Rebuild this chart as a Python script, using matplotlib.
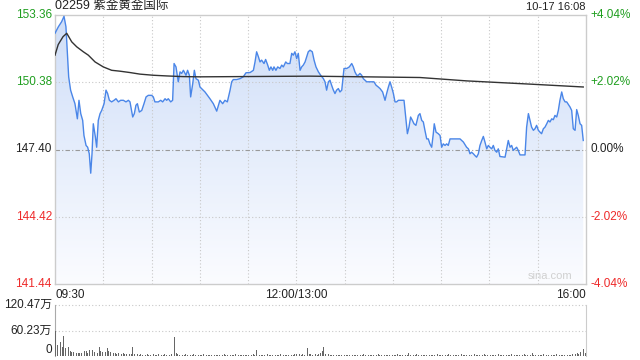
import numpy as np
import matplotlib
matplotlib.use("Agg")
import matplotlib.pyplot as plt

plt.rcParams["font.family"] = ["Liberation Sans", "Noto Sans CJK SC", "DejaVu Sans"]

# minutes since 09:30 (lunch break removed), price
price_min = [0, 2.1, 4.1, 5.6, 6.8, 7.7, 8.5, 9.7, 11.0, 12.4, 13.9, 14.9, 16.0, 17.2, 18.0, 19.3,
             20.3, 21.3, 22.2, 23.0, 23.8, 25.1, 25.9, 26.9, 28.0, 29.0, 30.5, 31.7, 32.7, 33.8,
             35.2, 36.7, 37.9, 39.4, 40.8, 42.5, 44.1, 45.6, 46.6, 47.6, 48.3, 49.3, 50.3, 51.2,
             52.4, 53.9, 55.3, 56.6, 58.0, 60.1, 61.1, 62.1, 64.2, 65.7, 66.9, 68.4, 69.4, 70.4,
             71.9, 73.1, 74.0, 75.2, 76.6, 77.7, 78.7, 79.8, 81.4, 82.4, 83.5, 84.3, 85.6, 86.6,
             87.6, 89.1, 90.1, 93.2, 96.3, 98.4, 100.5, 102.5, 104.2, 105.6, 107.1, 108.8, 109.8,
             110.8, 112.9, 115.0, 117.0, 118.7, 121.2, 123.3, 124.3, 125.3, 126.4, 127.4, 128.4,
             129.9, 130.9, 132.2, 133.2, 134.2, 135.3, 136.1, 137.3, 138.4, 139.8, 140.9, 141.9,
             143.4, 144.4, 146.0, 147.1, 148.1, 149.1, 150.2, 151.2, 152.3, 153.3, 154.3, 155.4,
             156.4, 157.4, 158.5, 159.9, 161.0, 162.2, 163.7, 165.1, 166.8, 167.8, 168.8, 169.9,
             170.9, 171.9, 173.0, 174.0, 175.0, 176.1, 177.1, 178.2, 179.6, 181.3, 182.9, 184.4,
             185.4, 186.4, 187.5, 188.5, 189.5, 190.6, 191.6, 192.7, 193.7, 195.3, 196.8, 198.2,
             199.5, 200.9, 202.0, 203.6, 205.1, 206.1, 207.2, 208.2, 209.2, 210.3, 211.3, 212.3,
             213.4, 216.9, 219.0, 220.0, 221.0, 222.1, 223.1, 224.3, 225.8, 226.8, 227.9, 228.9,
             229.9, 231.0, 232.0, 233.0, 234.1, 235.1, 235.7, 236.8, 238.2, 239.3, 240.3, 241.3,
             242.4, 243.4, 244.4, 245.5, 251.7, 253.8, 255.8, 256.9, 257.9, 258.9, 260.0, 261.0,
             262.0, 263.1, 264.1, 265.2, 266.2, 267.2, 268.3, 269.3, 270.3, 271.4, 272.4, 273.4,
             274.5, 275.5, 276.5, 279.7, 280.7, 281.7, 282.8, 283.8, 284.8, 285.9, 286.9, 287.9,
             289.0, 292.1, 293.1, 294.2, 295.2, 296.2, 297.3, 298.3, 299.3, 300.4, 301.4, 302.4,
             303.5, 304.5, 305.6, 306.6, 307.6, 308.7, 309.7, 310.7, 311.8, 312.8, 313.8, 314.9,
             315.9, 317.0, 318.0, 319.0, 320.1, 321.1, 322.1, 323.2, 324.2, 325.2, 326.3, 327.3,
             328.3]
price = [152.55, 152.84, 153.06, 153.30, 152.84, 151.66, 150.62, 150.03, 149.73, 149.43, 148.76,
         149.58, 148.99, 148.69, 148.02, 147.58, 147.50, 147.21, 146.35, 147.21, 148.54, 147.95,
         147.50, 148.69, 148.99, 149.13, 149.43, 150.03, 149.88, 149.58, 149.51, 149.58, 149.65,
         149.51, 149.58, 149.58, 149.51, 149.58, 149.51, 149.13, 148.84, 148.99, 149.36, 149.43,
         149.06, 149.13, 149.43, 149.73, 149.80, 149.80, 149.73, 149.51, 149.51, 149.58, 149.51,
         149.65, 149.58, 149.65, 149.51, 149.58, 151.21, 151.06, 150.40, 150.84, 150.77, 150.91,
         150.69, 150.91, 150.69, 149.73, 150.32, 150.91, 150.54, 150.47, 150.17, 149.95, 149.65,
         149.43, 149.10, 149.58, 149.43, 149.58, 149.51, 150.03, 150.40, 150.50, 150.50, 150.54,
         150.62, 150.80, 150.81, 150.91, 151.28, 151.73, 151.51, 151.28, 151.36, 151.21, 151.39,
         151.14, 150.91, 151.06, 150.91, 151.06, 150.91, 151.06, 150.99, 151.14, 151.06, 151.28,
         151.21, 151.21, 151.66, 151.58, 151.73, 151.43, 151.66, 150.91, 151.06, 151.14, 151.28,
         151.51, 151.73, 151.80, 151.73, 151.36, 151.06, 150.84, 150.69, 150.54, 150.40, 150.03,
         150.40, 150.47, 150.25, 150.03, 149.88, 150.03, 150.10, 149.95, 150.03, 150.99, 150.99,
         151.06, 151.21, 151.06, 150.84, 150.69, 150.69, 150.77, 150.69, 150.54, 150.47, 150.40,
         150.40, 150.40, 150.40, 150.25, 150.17, 150.10, 149.95, 149.58, 149.88, 150.17, 150.40,
         150.17, 149.88, 149.51, 149.51, 149.58, 149.58, 148.10, 148.40, 148.84, 148.69, 148.54,
         148.47, 148.91, 148.99, 148.69, 148.62, 148.25, 147.87, 147.87, 147.65, 147.50, 148.10,
         148.54, 148.17, 148.10, 148.02, 147.50, 147.65, 147.58, 147.65, 147.58, 147.87, 147.87,
         147.73, 147.50, 147.43, 147.21, 147.28, 147.21, 147.13, 147.06, 147.21, 147.58, 147.80,
         147.98, 147.73, 147.43, 147.58, 147.50, 147.43, 147.58, 147.36, 147.28, 147.43, 147.09,
         147.06, 147.43, 147.80, 147.50, 147.58, 147.36, 147.43, 147.50, 147.36, 147.16, 147.16,
         148.39, 148.99, 148.69, 148.39, 148.25, 148.32, 148.47, 148.25, 148.17, 148.10, 148.32,
         148.39, 148.54, 148.69, 148.62, 148.76, 148.72, 148.91, 148.84, 149.13, 149.58, 149.95,
         149.65, 149.51, 149.51, 149.40, 149.28, 149.13, 148.32, 148.25, 149.17, 148.91, 148.54,
         148.47, 147.80]

avg_min = [0, 2, 5, 7.3, 10.4, 13.5, 17.6, 20.7, 24.9, 30.0, 35.2, 40.4, 46.6, 52.8, 61.1,
           69.4, 79.5, 90.1, 158.5, 226.8, 255.9, 297.1, 328.3]
avg_price = [151.58, 152.05, 152.40, 152.55, 152.17, 151.95, 151.73, 151.58, 151.28, 151.06,
             150.91, 150.87, 150.81, 150.74, 150.69, 150.66, 150.63, 150.62, 150.65, 150.59,
             150.44, 150.29, 150.17]

# volume per minute, in 万 shares
vol_0930 = [58, 26, 18, 34, 22, 47, 18, 30, 22, 12, 10, 9, 11, 8, 6, 7, 6, 8, 12, 11, 7, 14, 9, 13, 10, 18, 8, 22, 12, 9]
vol_1000 = [16, 10, 18, 12, 9, 7, 6, 8, 5, 6, 4, 5, 7, 4, 5, 3, 4, 5, 22, 4, 3, 4, 3, 5, 3, 4, 3, 4, 3, 2]
vol_1030 = [3, 4, 2, 3, 4, 3, 2, 3, 4, 3, 2, 3, 4, 5, 46, 6, 4, 3, 3, 2, 3, 4, 2, 3, 3, 2, 4, 3, 2, 3]
vol_1100 = [3, 2, 4, 3, 2, 3, 2, 3, 4, 2, 3, 2, 2, 3, 2, 4, 3, 2, 3, 2, 3, 2, 4, 3, 2, 3, 2, 3, 2, 3]
vol_1130 = [2, 3, 2, 4, 3, 14, 3, 2, 3, 2, 3, 2, 4, 3, 2, 3, 2, 3, 2, 3, 4, 3, 2, 3, 2, 3, 2, 3, 3, 4]
vol_1300 = [4, 3, 5, 3, 4, 3, 4, 20, 5, 4, 3, 4, 5, 3, 4, 6, 12, 22, 5, 3, 4, 3, 2, 3, 4, 3, 2, 3, 2, 3]
vol_1330 = [3, 2, 3, 2, 4, 3, 2, 3, 2, 3, 2, 3, 4, 2, 3, 2, 3, 2, 3, 2, 3, 4, 3, 2, 3, 2, 3, 2, 3, 2]
vol_1400 = [3, 2, 3, 4, 2, 3, 2, 3, 2, 3, 8, 3, 2, 3, 2, 4, 3, 2, 3, 2, 3, 2, 7, 3, 2, 3, 2, 3, 4, 2]
vol_1430 = [3, 2, 3, 2, 3, 4, 2, 3, 2, 3, 2, 3, 2, 4, 3, 2, 3, 2, 3, 2, 3, 4, 3, 2, 3, 2, 3, 4, 2, 3]
vol_1500 = [3, 2, 3, 2, 3, 2, 4, 3, 2, 3, 2, 3, 2, 3, 4, 3, 2, 3, 2, 3, 2, 3, 4, 3, 2, 3, 2, 6, 3, 2]
vol_1530 = [3, 2, 3, 2, 4, 3, 2, 3, 2, 3, 2, 3, 4, 3, 2, 3, 2, 3, 4, 3, 2, 3, 5, 3, 4, 6, 4, 10, 5, 17, 8]

prev_close = 147.40
y_ticks = [141.44, 144.42, 147.40, 150.38, 153.36]
pct_labels = ["-4.04%", "-2.02%", "0.00%", "+2.02%", "+4.04%"]
vol_ticks = [0, 60.23, 120.47]
vol_labels = ["0", "60.23万", "120.47万"]
title = "02259 紫金黄金国际"
stamp = "10-17 16:08"

GREEN = "#1f9e1f"
RED = "#ee2a2a"
BLUE = "#4a86e8"
GRID = "#c8c8c8"

volume = np.array(vol_0930 + vol_1000 + vol_1030 + vol_1100 + vol_1130 + vol_1300
                  + vol_1330 + vol_1400 + vol_1430 + vol_1500 + vol_1530)

fig = plt.figure(figsize=(6.4, 3.6), dpi=100)
ax = fig.add_axes([55 / 640, 1 - 284 / 360, 531 / 640, 269 / 360])
axv = fig.add_axes([55 / 640, 1 - 356 / 360, 531 / 640, 51 / 360])

ymin, ymax = y_ticks[0], y_ticks[-1]
ax.set_xlim(0, 330)
ax.set_ylim(ymin, ymax)

# gradient fill under price line
poly = ax.fill_between(price_min, price, ymin, color="none")
grad = np.linspace(0, 1, 256).reshape(-1, 1)
cmap = matplotlib.colors.LinearSegmentedColormap.from_list("g", ["#cfdef8", "#fbfcff"])
img = ax.imshow(grad, extent=[0, 330, ymin, ymax], origin="upper", aspect="auto",
                cmap=cmap, zorder=1)
img.set_clip_path(poly.get_paths()[0], transform=ax.transData)

ax.plot(price_min, price, color=BLUE, lw=1.0, zorder=3)
ax.plot(avg_min, avg_price, color="#333333", lw=1.0, zorder=3)

for t in range(30, 330, 30):
    ax.axvline(t, color=GRID, lw=0.8, ls=(0, (1, 2)), zorder=2)
for v in y_ticks[1:-1]:
    if v == prev_close:
        ax.axhline(v, color="#999999", lw=0.8, ls=(0, (4, 2, 1, 2)), zorder=2)
    else:
        ax.axhline(v, color=GRID, lw=0.8, ls=(0, (1, 2)), zorder=2)

ax.set_xticks([])
ax.set_yticks([])
for s in ax.spines.values():
    s.set_color("#cccccc")
    s.set_linewidth(1)

for v, p in zip(y_ticks, pct_labels):
    c = GREEN if v > prev_close else (RED if v < prev_close else "#222222")
    ax.text(-0.006, v, f"{v:.2f}", transform=ax.get_yaxis_transform(), ha="right",
            va="center", fontsize=8.5, color=c)
    ax.text(1.008, v, p, transform=ax.get_yaxis_transform(), ha="left",
            va="center", fontsize=8.5, color=c)

ax.text(0, 1.012, title, transform=ax.transAxes, ha="left", va="bottom", fontsize=9, color="#222222")
ax.text(1, 1.012, stamp, transform=ax.transAxes, ha="right", va="bottom", fontsize=8, color="#222222")
ax.text(0.975, 0.012, "sina.com", transform=ax.transAxes, ha="right", va="bottom",
        fontsize=8, color="#d0d0d0")

ax.text(0, -0.018, "09:30", transform=ax.transAxes, ha="left", va="top", fontsize=8.5, color="#222222")
ax.text(150, -0.018, "12:00/13:00", transform=ax.get_xaxis_transform(), ha="center", va="top",
        fontsize=8.5, color="#222222")
ax.text(1, -0.018, "16:00", transform=ax.transAxes, ha="right", va="top", fontsize=8.5, color="#222222")

# volume panel
axv.bar(np.arange(len(volume)), volume, width=0.5, color="#666666", zorder=3)
axv.set_xlim(-0.5, 330.5)
axv.set_ylim(0, vol_ticks[-1])
for v in vol_ticks[1:]:
    axv.axhline(v, color=GRID, lw=0.8, ls=(0, (1, 2)), zorder=2, clip_on=False)
axv.set_xticks([])
axv.set_yticks([])
axv.spines["top"].set_visible(False)
axv.spines["bottom"].set_visible(False)
axv.spines["left"].set_color("#aaaaaa")
axv.spines["right"].set_color("#cccccc")
for v, lab in zip(vol_ticks, vol_labels):
    axv.text(-0.006, v + (14 if v == 0 else 0), lab, transform=axv.get_yaxis_transform(),
             ha="right", va="center", fontsize=8.5, color="#222222")

fig.savefig("out.png", dpi=100)
